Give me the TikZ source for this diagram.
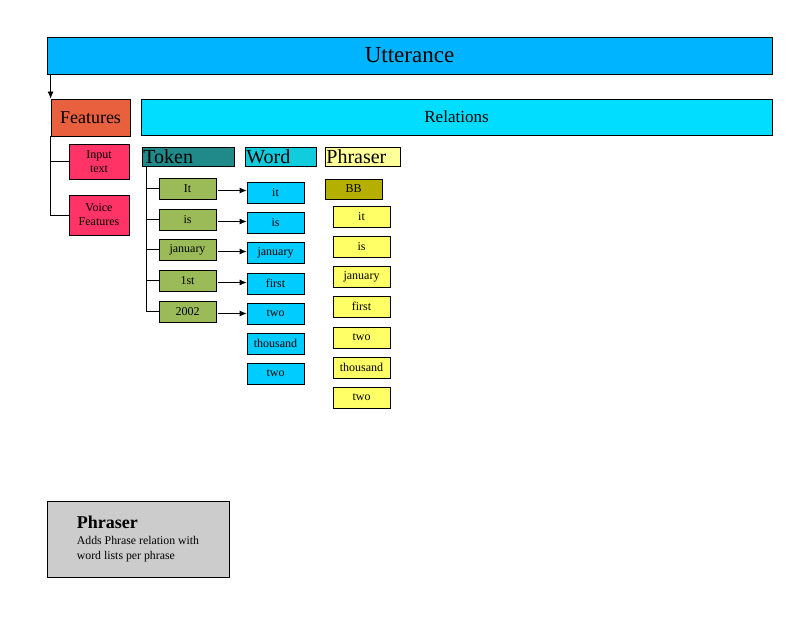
\documentclass[tikz,border=0pt]{standalone}
\usepackage{fontspec}
\setmainfont{Liberation Serif}
\usetikzlibrary{arrows.meta, positioning}
\definecolor{cutter}{HTML}{00B4FF}
\definecolor{crel}{HTML}{00DDFF}
\definecolor{cfeat}{HTML}{E9603F}
\definecolor{cpink}{HTML}{FF3366}
\definecolor{cteal}{HTML}{208A8A}
\definecolor{cwordh}{HTML}{11CCDD}
\definecolor{ctok}{HTML}{9BBB59}
\definecolor{cword}{HTML}{00CCFF}
\definecolor{cbb}{HTML}{B5B000}
\definecolor{cphrh}{HTML}{FFFF99}
\definecolor{cphr}{HTML}{FFFF66}
\definecolor{cnote}{HTML}{CCCCCC}
\tikzset{
  every picture/.style={line width=0.8pt},
  box/.style={draw=black, fill=#1, align=center, inner sep=1pt, font=\fontsize{12}{14}\selectfont},
  head/.style={box=#1, anchor=west, align=left, inner xsep=1pt, inner ysep=0pt, minimum height=19pt, font=\fontsize{20}{20}\selectfont},
  leaf/.style={box=#1, minimum width=57pt, minimum height=21pt},
  arrow/.style={-{Latex[length=7pt, width=6pt]}},
}

\begin{document}
\begin{tikzpicture}[x=1pt, y=-1pt]
  \useasboundingbox (0,0) rectangle (800,620);
  \node[box=cutter, minimum width=725pt, minimum height=37pt, font=\fontsize{23}{23}\selectfont] (utt) at (409.5, 55.5) {Utterance};
  \node[box=cfeat, minimum width=79pt, minimum height=37pt, font=\fontsize{18}{18}\selectfont] (feat) at (90.5, 117.5) {Features};
  \node[box=crel, minimum width=631pt, minimum height=36pt, font=\fontsize{17}{17}\selectfont] (rel) at (456.5, 117) {Relations};
  \node[box=cpink, minimum width=60pt, minimum height=35pt] (inp) at (99, 161.5) {Input\\text};
  \node[box=cpink, minimum width=60pt, minimum height=40pt] (voice) at (99, 215) {Voice\\Features};
  \draw[arrow] (feat.north west |- utt.south) -- (feat.north west);
  \draw (feat.south west) |- (inp.west); \draw (feat.south west) |- (voice.west);
  % relation heads
  \node[head=cteal, text width=90pt] (tokh) at (142, 156.5) {Token};
  \node[head=cwordh, text width=69pt] (wordh) at (245, 156.5) {Word};
  \node[head=cphrh, text width=73pt] (phrh) at (325, 156.5) {Phraser};
  % tokens
  \node[leaf=ctok] (tk1) at (187.5, 188.5) {It};
  \node[leaf=ctok] (tk2) at (187.5, 219.5) {is};
  \node[leaf=ctok] (tk3) at (187.5, 249.5) {january};
  \node[leaf=ctok] (tk4) at (187.5, 280.5) {1st};
  \node[leaf=ctok] (tk5) at (187.5, 311.5) {2002};
  \draw ([xshift=4pt]tokh.south west) |- (tk1.west); \draw ([xshift=4pt]tokh.south west) |- (tk2.west);
  \draw ([xshift=4pt]tokh.south west) |- (tk3.west); \draw ([xshift=4pt]tokh.south west) |- (tk4.west);
  \draw ([xshift=4pt]tokh.south west) |- (tk5.west);
  % words
  \node[leaf=cword] (wd1) at (275.5, 192.5) {it};
  \node[leaf=cword] (wd2) at (275.5, 222.5) {is};
  \node[leaf=cword] (wd3) at (275.5, 252.5) {january};
  \node[leaf=cword] (wd4) at (275.5, 283.5) {first};
  \node[leaf=cword] (wd5) at (275.5, 313.5) {two};
  \node[leaf=cword] (wd6) at (275.5, 343.5) {thousand};
  \node[leaf=cword] (wd7) at (275.5, 373.5) {two};
  \draw[arrow, shorten <=2pt] ([yshift=-2pt]tk1.east) -- ([yshift=-2pt]tk1.east -| wd1.west);
  \draw[arrow, shorten <=2pt] ([yshift=-2pt]tk2.east) -- ([yshift=-2pt]tk2.east -| wd2.west);
  \draw[arrow, shorten <=2pt] ([yshift=-2pt]tk3.east) -- ([yshift=-2pt]tk3.east -| wd3.west);
  \draw[arrow, shorten <=2pt] ([yshift=-2pt]tk4.east) -- ([yshift=-2pt]tk4.east -| wd4.west);
  \draw[arrow, shorten <=2pt] ([yshift=-2pt]tk5.east) -- ([yshift=-2pt]tk5.east -| wd5.west);
  % phrases
  \node[leaf=cbb, minimum height=20pt] (bb) at (353.5, 189) {BB};
  \node[leaf=cphr] (ph1) at (361.5, 216.5) {it};
  \node[leaf=cphr] (ph2) at (361.5, 246.5) {is};
  \node[leaf=cphr] (ph3) at (361.5, 276.5) {january};
  \node[leaf=cphr] (ph4) at (361.5, 306.5) {first};
  \node[leaf=cphr] (ph5) at (361.5, 337.5) {two};
  \node[leaf=cphr] (ph6) at (361.5, 367.5) {thousand};
  \node[leaf=cphr] (ph7) at (361.5, 397.5) {two};
  % legend
  \node[box=cnote, align=left, minimum width=182pt, minimum height=76pt, font=\fontsize{11.8}{15}\selectfont] (note) at (138, 539)
    {{\fontsize{18}{18}\selectfont\bfseries Phraser}\\[1pt]Adds Phrase relation with\\word lists per phrase};
\end{tikzpicture}
\end{document}
